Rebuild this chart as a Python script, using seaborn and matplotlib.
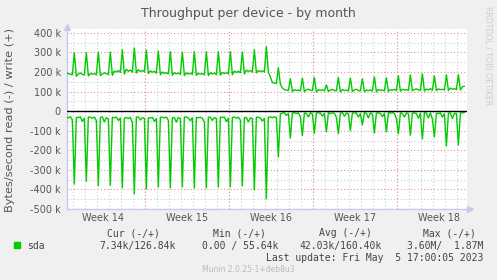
import matplotlib

matplotlib.use("Agg")
import matplotlib.pyplot as plt
import numpy as np
import pandas as pd
import seaborn as sns
from matplotlib.patches import Rectangle

# Munin "diskstats_throughput" month graph for sda, values in kB/s.
# One row per day: four samples before the nightly job, the spike, one sample after.
WRITE_ROWS = [
    [196, 192, 189, 186, 299, 178],
    [190, 195, 188, 185, 299, 180],
    [193, 189, 191, 186, 302, 182],
    [190, 196, 192, 187, 302, 183],
    [205, 200, 208, 198, 314, 190],
    [214, 204, 210, 200, 323, 195],
    [212, 203, 208, 201, 313, 192],
    [206, 199, 204, 194, 308, 186],
    [200, 193, 197, 190, 304, 184],
    [197, 191, 195, 188, 302, 182],
    [196, 190, 194, 188, 304, 183],
    [194, 189, 192, 186, 304, 182],
    [196, 190, 195, 187, 304, 184],
    [198, 192, 196, 190, 304, 186],
    [205, 198, 204, 196, 302, 190],
    [210, 203, 208, 200, 314, 196],
    [208, 202, 206, 200, 330, 200],
    [175, 146, 144, 142, 222, 138],
    [118, 110, 108, 106, 166, 100],
    [110, 106, 108, 104, 169, 100],
    [109, 112, 107, 105, 172, 98],
    [110, 106, 109, 104, 135, 101],
    [108, 111, 106, 104, 172, 99],
    [110, 106, 108, 103, 169, 100],
    [109, 112, 106, 104, 166, 100],
    [108, 105, 109, 103, 176, 99],
    [111, 106, 108, 104, 171, 101],
    [110, 107, 112, 105, 181, 102],
    [112, 108, 110, 106, 186, 104],
    [111, 114, 109, 106, 191, 103],
    [113, 109, 115, 107, 181, 105],
    [114, 110, 112, 108, 186, 106],
    [118, 112, 115, 110, 186, 108],
    [125, 127],
]
READ_ROWS = [
    [30, 34, 28, 45, 373, 32],
    [33, 29, 52, 36, 358, 30],
    [31, 36, 30, 48, 381, 33],
    [29, 55, 33, 40, 378, 31],
    [34, 30, 47, 35, 392, 36],
    [32, 38, 31, 58, 422, 30],
    [30, 45, 33, 36, 397, 34],
    [35, 31, 52, 38, 387, 31],
    [31, 34, 30, 47, 392, 33],
    [33, 56, 32, 38, 387, 30],
    [30, 35, 48, 34, 392, 32],
    [34, 31, 36, 55, 392, 31],
    [31, 47, 33, 37, 387, 30],
    [33, 30, 53, 36, 387, 32],
    [30, 36, 31, 46, 382, 33],
    [32, 55, 34, 38, 402, 31],
    [31, 35, 50, 37, 448, 30],
    [30, 34, 28, 33, 233, 14],
    [10, 8, 22, 12, 137, 9],
    [8, 12, 9, 28, 125, 10],
    [11, 30, 8, 14, 114, 9],
    [9, 10, 25, 12, 105, 8],
    [12, 9, 11, 32, 115, 10],
    [8, 26, 10, 13, 99, 9],
    [10, 9, 30, 12, 70, 8],
    [11, 35, 9, 14, 112, 10],
    [9, 12, 28, 11, 106, 8],
    [10, 8, 12, 38, 116, 9],
    [11, 30, 9, 13, 122, 10],
    [9, 12, 36, 11, 142, 8],
    [10, 34, 9, 40, 132, 11],
    [12, 9, 30, 13, 178, 10],
    [9, 38, 11, 12, 173, 8],
    [9, 7],
]
WEEK_LABELS = ["Week 14", "Week 15", "Week 16", "Week 17", "Week 18"]
WEEK_STARTS = [6, 13, 20, 27]  # days (from first midnight) where a new week begins
Y_TICKS = [-500, -400, -300, -200, -100, 0, 100, 200, 300, 400]

LEGEND_NAME = "sda"
LEGEND_HEADERS = ["Cur (-/+)", "Min (-/+)", "Avg (-/+)", "Max (-/+)"]
LEGEND_VALUES = ["7.34k/126.84k", "0.00 / 55.64k", "42.03k/160.40k", "3.60M/  1.87M"]
LAST_UPDATE = "Last update: Fri May  5 17:00:05 2023"

GREEN = "#00cc00"
TEXT = "#555555"
AXIS = "#c8c8f0"
MAJOR_GRID = "#e89595"
MINOR_GRID = "#cccccc"
BG = "#f0f0f0"

write = np.concatenate([np.array(r, float) for r in WRITE_ROWS])
read = np.concatenate([np.array(r, float) for r in READ_ROWS])
t = -7 / 12 + np.arange(len(write)) / 6  # one sample every 4 hours, in days
df = pd.concat(
    [
        pd.DataFrame({"day": t, "kbps": write, "dir": "write"}),
        pd.DataFrame({"day": t, "kbps": -read, "dir": "read"}),
    ]
)

sns.set_theme(style="white")
plt.rcParams["font.family"] = ["DejaVu Sans"]

W, H = 497, 280
fig = plt.figure(figsize=(W / 100, H / 100), dpi=100, facecolor=BG)
ax = fig.add_axes([66.5 / W, 1 - 209 / H, (467 - 66.5) / W, (209 - 29) / H])
ax.set_facecolor("white")


def fx(px):
    return px / W


def fy(py):
    return 1 - py / H


# grid: gray minor (days / 50k), red major (weeks / 100k)
for d in np.arange(0, 33):
    ax.axvline(d, color=MINOR_GRID, lw=0.8, ls=(0, (1, 2)), zorder=0)
for y in np.arange(-450, 420, 100):
    ax.axhline(y, color=MINOR_GRID, lw=0.8, ls=(0, (1, 2)), zorder=0)
for d in WEEK_STARTS:
    ax.axvline(d, color=MAJOR_GRID, lw=0.8, ls=(0, (1, 2)), zorder=1)
for y in Y_TICKS:
    ax.axhline(y, color=MAJOR_GRID, lw=0.8, ls=(0, (1, 2)), zorder=1)

sns.lineplot(
    data=df,
    x="day",
    y="kbps",
    hue="dir",
    palette={"write": GREEN, "read": GREEN},
    estimator=None,
    sort=False,
    legend=False,
    lw=1.0,
    ax=ax,
    zorder=3,
)
ax.axhline(0, color="black", lw=1.0, zorder=4)

ax.set_xlim(-0.57, 32.8)
ax.set_ylim(-500, 420)
ax.set_yticks(Y_TICKS)
ax.set_yticklabels([f"{v} k" if v else "0" for v in Y_TICKS])
week_mids = [WEEK_STARTS[0] - 3.5] + [s + 3.5 for s in WEEK_STARTS]
ax.set_xticks(week_mids)
ax.set_xticklabels(WEEK_LABELS)
ax.tick_params(axis="both", length=0, labelsize=7, colors=TEXT)
ax.tick_params(axis="y", pad=4)
ax.tick_params(axis="x", pad=3)
ax.set_xlabel("")
ax.set_ylabel("")
for side in ("top", "right"):
    ax.spines[side].set_visible(False)
for side in ("left", "bottom"):
    ax.spines[side].set_color(AXIS)
    ax.spines[side].set_linewidth(1.0)
ax.plot([0], [1.01], marker="^", ms=4, color=AXIS, transform=ax.transAxes, clip_on=False)
ax.plot([1.008], [0], marker=">", ms=4, color=AXIS, transform=ax.transAxes, clip_on=False)

fig.text(fx(248), fy(13), "Throughput per device - by month", ha="center", va="center",
         fontsize=9, color=TEXT)
fig.text(fx(10.5), fy(120), "Bytes/second read (-) / write (+)", rotation=90,
         ha="center", va="center", fontsize=8.2, color=TEXT)
fig.text(fx(488), fy(56), "RRDTOOL / TOBI OETIKER", rotation=270, ha="center",
         va="center", fontsize=5.6, color="#cccccc")

mono = {"family": "DejaVu Sans Mono", "fontsize": 7, "color": "#444444"}
fig.patches.append(Rectangle((fx(14), fy(248)), 6 / W, 6 / H, transform=fig.transFigure,
                             color=GREEN))
fig.text(fx(27), fy(246), LEGEND_NAME, ha="left", va="center", **mono)
for x, txt in zip([107, 213, 319, 423], LEGEND_HEADERS):
    fig.text(fx(x), fy(233), txt, ha="left", va="center", **mono)
for x, txt in zip([99, 202, 299, 407], LEGEND_VALUES):
    fig.text(fx(x), fy(246), txt, ha="left", va="center", **mono)
fig.text(fx(483), fy(258), LAST_UPDATE, ha="right", va="center", **mono)
fig.text(fx(248.5), fy(269), "Munin 2.0.25-1+deb8u3", ha="center", va="center",
         fontsize=5.5, color="#bbbbbb")

fig.savefig("out.png", dpi=100, facecolor=BG)
plt.close(fig)
